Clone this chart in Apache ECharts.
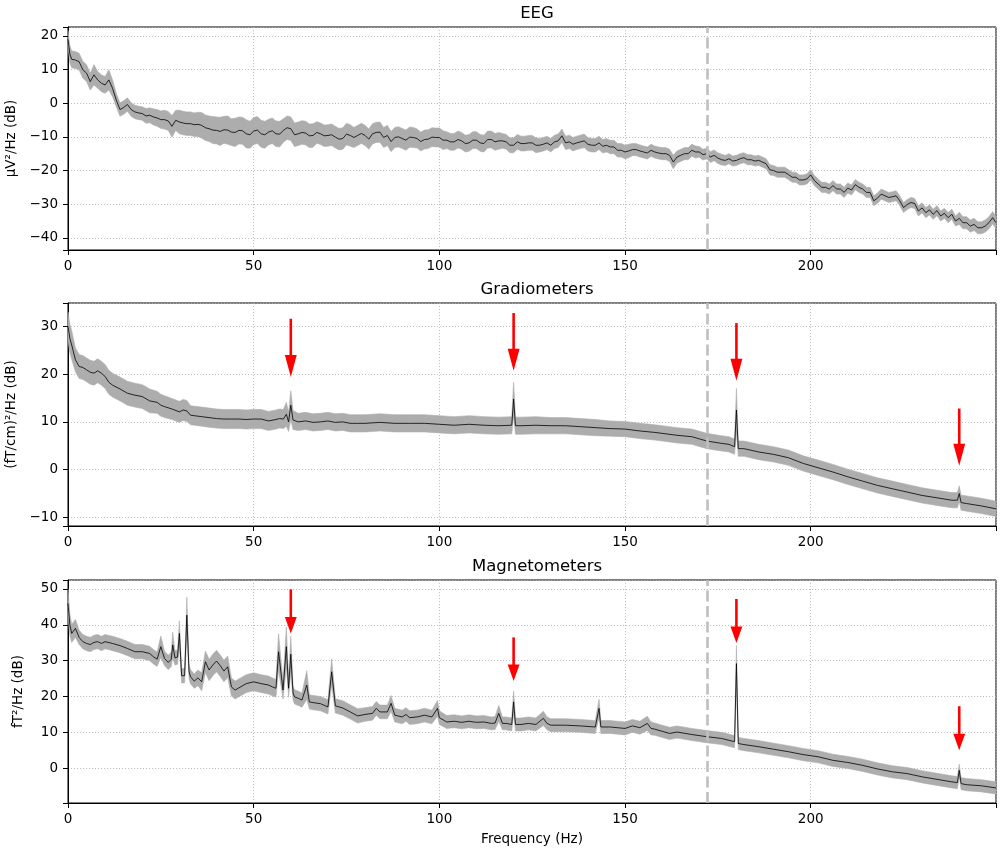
<!DOCTYPE html>
<html>
<head>
<meta charset="utf-8">
<script src="https://cdn.jsdelivr.net/npm/echarts@6/dist/echarts.min.js"></script>
<style>
  html, body { margin: 0; padding: 0; background: #fff; }
  #main { width: 1000px; height: 850px; }
</style>
</head>
<body>
<div id="main"></div>
<script>
// ---------------- DATA ----------------
const panelTitles = ['EEG', 'Gradiometers', 'Magnetometers'];
const yAxisNames = ['\u00b5V\u00b2/Hz (dB)', '(fT/cm)\u00b2/Hz (dB)', 'fT\u00b2/Hz (dB)'];
const xAxisName = 'Frequency (Hz)';
const xRange = [0, 249.9];
const yRanges = [[-43.6, 22.6], [-11.8, 34.9], [-9.7, 52.5]];
const cutoffFreq = 172.2;

// EEG
const eegFreq = [0,0.5,1,2,3,4,5,6,7,8,9,10,11,12,13,14,15,16,17,18,19,
  20,21,22,23,24,25,26,27,28,29, 30,31,32,33,34,35,36,37,38,39,
  40,41,42,43,44,45,46,47,48,49, 50,51,52,53,54,55,56,57,58,59,
  60,61,62,63,64,65,66,67,68,69, 70,71,72,73,74,75,76,77,78,79,
  80,81,82,83,84,85,86,87,88,89, 90,91,92,93,94,95,96,97,98,99,
  100,101,102,103,104,105,106,107,108,109, 110,111,112,113,114,115,116,117,118,119,
  120,121,122,123,124,125,126,127,128,129, 130,131,132,133,134,135,136,137,138,139,
  140,141,142,143,144,145,146,147,148,149, 150,151,152,153,154,155,156,157,158,159,
  160,161,162,163,164,165,166,167,168,169, 170,171,172,173,174,175,176,177,178,179,
  180,181,182,183,184,185,186,187,188,189, 190,191,192,193,194,195,196,197,198,199,
  200,201,202,203,204,205,206,207,208,209, 210,211,212,213,214,215,216,217,218,219,
  220,221,222,223,224,225,226,227,228,229, 230,231,232,233,234,235,236,237,238,239,
  240,241,242,243,244,245,246,247,248,249,249.9];
const eegMean = [19,14.5,13,12.8,12.3,9.9,8.9,6.4,8.4,6.9,5.9,5.4,6.9,4.4,0.9,-1.9,-1.3,-0.4,-1.9,-2.6,-2.9,
  -3.1,-3.8,-3.6,-4.1,-4.4,-4.9,-4.9,-5.3,-6.9,-5.1, -5.6,-5.9,-6.1,-6.1,-6.4,-6.3,-6.6,-7.3,-7.6,-8,
  -8.1,-8.4,-7.9,-8,-8.6,-8.7,-8.1,-8.2,-9.1,-9.4, -8.3,-8,-9.1,-9.4,-8.6,-8.2,-9.1,-9.2,-8.1,-7.3,
  -7.6,-9.4,-9.1,-8.7,-8.9,-9.7,-9.6,-8.7,-9.1,-9.7, -9.6,-9.4,-10.1,-10.7,-10.5,-9.2,-9.6,-10.2,-9.6,-9,
  -9.6,-10.7,-9.1,-8.7,-8.6,-10.2,-9.6,-11.4,-10.2,-10, -10.5,-11,-10.1,-10.2,-10.5,-11.4,-10.8,-10.7,-10.1,-10.2,
  -10.2,-11,-11,-11.5,-11.5,-10.8,-11.2,-12,-11.8,-11, -11,-11.8,-12,-10.8,-10.8,-11.5,-11.2,-11.2,-11.5,-12.5,
  -12.5,-11.5,-12,-12,-11.8,-11.8,-12.5,-12.5,-12.2,-11.8, -12.5,-11.5,-11.2,-9.7,-11.8,-11.5,-12.2,-11.8,-11.5,-11.2,
  -12.2,-12.5,-12.5,-11.8,-12.8,-12.5,-13,-13,-14,-14, -14.5,-14.2,-13.8,-13.8,-14.2,-14.5,-14.8,-14,-14.5,-14.8,
  -15,-15,-15.5,-17.5,-16,-15.5,-15,-15,-14,-14.5, -14.5,-15.3,-15,-16,-15.5,-16.3,-16.8,-17,-16.5,-17.2,
  -17,-16.5,-16.2,-16.8,-16.8,-17.2,-17,-17.5,-18,-19.8, -20,-20.5,-20.5,-20.5,-21.2,-22,-22,-22.8,-22.8,-22.5,
  -21.3,-23,-24,-25,-25,-25.5,-24.5,-25.5,-25.5,-26.5, -25.2,-25.8,-24.2,-25,-25.5,-26.5,-26.5,-29,-28.2,-27,
  -27.5,-28,-27.8,-27.5,-29,-31,-30.1,-29.5,-29.8,-32, -31.1,-32.5,-31.7,-33,-31.9,-33.5,-32.7,-34,-33,-35,
  -34.2,-35.5,-35.5,-36.5,-36,-37,-37,-36.5,-35.5,-34,-35.5];
const eegSpread = [2.5,2.5,2.5,2.5,2.5,2.5,2.5,2.5,3,2.5,2.5,2.5,3,2.5,2,2,2,2,2,2,2,
  2,2.2,2.2,2.4,2.5,2.6,2.8,2.8,3.2,3, 3.5,3.5,3.5,3.5,3.5,3.6,3.8,3.8,3.8,4,
  4,4.2,4,4.2,4,4.2,4,4,4.2,4, 4,4,4,4,3.8,3.8,3.8,3.8,3.5,3.5,
  3.5,3.5,3.5,3.5,3.5,3.5,3.5,3.2,3.2,3.2, 3.2,3.2,3.2,3.2,3.2,3.2,3.2,3,3,3,
  3,3,3,3,3,3,3,3,3,3, 3,3,3,3,2.8,2.8,2.8,2.8,2.8,2.8,
  2.8,2.8,2.5,2.5,2.5,2.5,2.5,2.5,2.5,2.5, 2.5,2.5,2.5,2.5,2.5,2.5,2.5,2.2,2.2,2.2,
  2.2,2.2,2.2,2.2,2.2,2.2,2.2,2,2,2, 2,2,2,2,2,2,2,2,2,2,
  2,2,2,2,2,2,2,2,2,2, 2,2,1.8,1.8,1.8,1.8,1.8,1.8,1.8,1.8,
  1.8,1.8,1.8,2,1.8,1.8,1.8,1.8,1.8,1.8, 1.6,1.6,1.6,1.6,1.6,1.6,1.6,1.5,1.5,1.5,
  1.5,1.5,1.5,1.5,1.5,1.5,1.5,1.5,1.5,1.5, 1.5,1.5,1.5,1.5,1.5,1.5,1.5,1.5,1.5,1.5,
  1.5,1.5,1.5,1.5,1.5,1.5,1.5,1.5,1.5,1.5, 1.5,1.5,1.5,1.5,1.5,1.5,1.5,1.5,1.5,1.5,
  1.5,1.5,1.5,1.5,1.5,1.5,1.5,1.5,1.5,1.5, 1.5,1.5,1.5,1.5,1.5,1.5,1.5,1.5,1.5,1.5,
  1.8,1.8,1.8,1.8,1.8,1.8,1.8,1.8,1.8,1.8,1.8];

// Gradiometers
const gradFreq = [0,0.5,1,2,3,4,5,6,7,8,9,10,11,12,14,16,18,20,22,24,25,26,28,30,31,32,33,34,36,38,40,
  42,44,46,48,50,52,54,56,57,58,58.8,59.4,60,60.6,62,64,66,68,70,72,74,76,78,80,
  84,88,92,96,100,104,108,112,116,119.5,120,120.5,122,126,130,134,138,142,146,150,154,158,160,164,168,172,176,178,
  179.5,180,180.5,182,186,190,194,198,202,206,210,214,218,222,226,230,234,238,239.5,240,240.5,242,246,249.9];
const gradMean = [30,27.5,26.1,23,21.6,21.4,20.9,20.4,20.2,20.7,20.2,19.5,18.3,17.7,16.9,16,15.6,15.3,14.4,14.1,13.5,13.2,12.7,12.1,12.5,12.3,11.4,11.3,11.1,10.9,10.7,
  10.6,10.6,10.6,10.5,10.6,10.6,10.2,10.5,10.7,10.6,11.6,10,13.5,10.4,10,10.2,9.9,10,10.2,9.9,10,9.7,9.7,9.7,
  9.9,9.7,9.7,9.7,9.5,9.3,9.5,9.3,9.2,9.3,14.8,9.2,9.2,9.3,9.2,9.2,9,8.8,8.6,8.5,8.1,7.8,7.6,7.2,6.9,6,5.5,5.3,
  4.8,12.5,4.4,4.4,3.7,3.2,2.5,1.3,0.4,-0.5,-1.5,-2.4,-3.3,-4,-4.7,-5.4,-5.9,-6.4,-6.4,-5,-6.9,-7.1,-7.6,-8.2];
const gradSpread = [3,3,3,2.5,2.5,2.5,2.5,2.5,2.5,2.5,2.5,2.5,2.5,2.5,2.5,2.5,2.5,2.5,2.5,2.3,2.3,2.3,2.2,2.2,2.2,2.2,2,2,2,2,2,
  2,2,2,2,2,2,2,2,2,2,2.5,2,3,2,1.8,1.8,1.8,1.8,1.8,1.8,1.8,1.8,1.8,1.8,
  1.8,1.8,1.8,1.8,1.8,1.8,1.8,1.8,1.8,1.8,3.5,1.8,1.8,1.8,1.7,1.7,1.7,1.7,1.6,1.6,1.6,1.6,1.6,1.6,1.6,1.6,1.6,1.6,
  1.6,4.5,1.6,1.6,1.6,1.6,1.6,1.6,1.6,1.6,1.6,1.6,1.6,1.6,1.6,1.6,1.6,1.6,1.6,1.6,1.6,1.6,1.6,1.6];

// Magnetometers
const magFreq = [0,0.5,1,2,3,4,5,6,7,8,9,10,12,14,16,18,20,22,23,24,
  25,26,27,27.8,28.2,28.8,29.5,30,30.6,31.4,32,32.6,33,34,35,36,37,38,39,40,
  41,42,43,44,45,46,48,50,52,54,55,56,56.7,57.9,58.8,59.4,60,60.6,61,62,
  63,64.3,65,66,68,70,71,72,74,76,78,80,82,83,84,86,87,88,90,91,
  92,94,96,98,99.5,100,102,104,106,108,110,112,114,115,116,117,118,119.5,120,120.5,
  122,124,126,128,129,130,134,138,142,143,143.5,146,148,150,152,154,156,157,158,160,
  162,164,168,172,176,179.5,180,180.5,182,186,190,194,198,202,206,210,214,218,222,226,
  230,234,238,239.5,240,240.5,242,246,249.9];
const magMean = [46,40,37.6,39,36.5,35.3,34.8,34.5,35.1,35.3,34.8,35.3,34.8,34.2,33.4,32.5,32.5,32,31.1,30.4,
  33.9,30.6,29.5,30.4,34.4,30.8,31,37.6,25.8,25.8,42.7,26.9,25.5,24.3,25.2,24.1,29.7,27.4,28.8,29.9,
  28.6,27.1,28.3,22.7,21.8,22.4,23.6,24.1,23.6,23.2,22.7,22.3,32.5,21.8,33.9,22.3,31.8,21,19.9,19.5,
  19,23.2,18.5,18.3,18,17.1,26.9,17.4,16.8,15.7,14.6,15,15.3,16.7,15.7,15.7,18.1,14.8,14.3,15,
  14.1,14.3,14.8,14.3,16.7,14.1,12.9,13.1,12.8,13.1,12.8,12.9,12.5,12.6,15.3,12.5,12.5,12.2,18.5,12.2,
  12.2,12.5,12.2,13.9,12.5,12,12,11.8,11.5,16.7,11.5,11.5,11.3,11.1,11.8,11.3,12.5,11.1,10.9,10.3,
  9.7,10.1,9.4,8.8,8.3,7.4,29.2,6.9,6.6,6,5.3,4.6,3.8,3.2,2.2,1.6,0.8,-0.2,-1,-1.5,
  -2.4,-3.1,-3.8,-4,-0.6,-4.3,-4.6,-4.9,-5.5];
const magSpread = [4,3,2.5,2.5,2,2,2,2,2,2,2,2,2,2,2,2,2,2,2,2,
  3,2,2,2,3.5,2,2,3.5,2,2,5,2,2,2,2.2,2.5,3,3,3,3,
  3,3,3,2.5,2.5,2.5,2.5,2.5,2.5,2.5,2.5,2.5,5,2.5,5.5,2.5,5,2,2,2,
  2,4,2,2,2,2,3.6,2,2,2,2,1.9,1.9,1.9,1.9,1.9,2.2,1.9,1.9,1.9,
  1.9,1.9,1.9,1.9,2.2,1.9,1.8,1.8,1.8,1.8,1.8,1.8,1.8,1.8,2.2,1.8,1.8,1.8,3,1.8,
  1.8,1.8,1.8,2,1.8,1.8,1.8,1.8,1.8,2.5,1.8,1.8,1.8,1.8,1.8,1.8,2,1.8,1.7,1.7,
  1.7,1.7,1.7,1.7,1.7,1.7,5,1.7,1.7,1.7,1.7,1.7,1.7,1.7,1.7,1.7,1.7,1.7,1.7,1.7,
  1.7,1.7,1.7,1.7,1.7,1.7,1.7,1.7,1.7];

// Red arrows (line-noise harmonics)
const arrowFreqs = [60, 120, 180, 240];
const gradArrowTop = [31.6, 32.8, 30.7, 12.8];
const gradArrowTip = [19.4, 20.7, 18.6, 0.8];
const magArrowTop = [49.9, 36.5, 47.2, 17.3];
const magArrowTip = [37.6, 24.3, 34.9, 5.0];

// ---------------- CHART ----------------
const FONT = 'DejaVu Sans';
const panels = [
  { freq: eegFreq, mean: eegMean, spread: eegSpread, arrows: null },
  { freq: gradFreq, mean: gradMean, spread: gradSpread, arrows: [gradArrowTop, gradArrowTip] },
  { freq: magFreq, mean: magMean, spread: magSpread, arrows: [magArrowTop, magArrowTip] }
];
const gridTops = [27, 303, 580];
const gridHeight = 223;
const gridLeft = 68, gridWidth = 928;
const gridLineStyle = { color: '#b0b0b0', type: [1.1, 1.9], width: 0.8 };

function fmtTick(v, step) {
  const r = Math.round(v);
  if (Math.abs(v - r) > 1e-6 || r % step !== 0) return '';
  return r < 0 ? '\u2212' + (-r) : String(r);
}

const grid = [], xAxis = [], yAxis = [], series = [], title = [];
panels.forEach((p, i) => {
  grid.push({ left: gridLeft, width: gridWidth, top: gridTops[i], height: gridHeight,
    show: true, borderColor: '#000', borderWidth: 1, containLabel: false, outerBoundsMode: 'none' });
  title.push({ text: panelTitles[i], left: gridLeft + gridWidth / 2, top: gridTops[i] - 27,
    textAlign: 'center', textStyle: { fontFamily: FONT, fontSize: 16.5, fontWeight: 'normal', color: '#000' } });
  xAxis.push({ type: 'value', gridIndex: i, min: xRange[0], max: xRange[1], interval: 50,
    name: i === 2 ? xAxisName : '', nameLocation: 'middle', nameGap: 29,
    nameTextStyle: { fontFamily: FONT, fontSize: 13.5, color: '#000' },
    axisLine: { show: true, onZero: false, lineStyle: { color: '#000', width: 1 } },
    axisTick: { show: true, length: 5, lineStyle: { color: '#000', width: 1 } },
    axisLabel: { show: true, margin: 9, fontFamily: FONT, fontSize: 13.5, color: '#000',
      formatter: v => fmtTick(v, 50) },
    splitLine: { show: true, lineStyle: gridLineStyle } });
  yAxis.push({ type: 'value', gridIndex: i, min: yRanges[i][0], max: yRanges[i][1],
    minInterval: 10, maxInterval: 10, splitNumber: 6,
    name: yAxisNames[i], nameLocation: 'middle', nameGap: 43,
    nameTextStyle: { fontFamily: FONT, fontSize: 13.5, color: '#000' },
    axisLine: { show: true, onZero: false, lineStyle: { color: '#000', width: 1 } },
    axisTick: { show: true, length: 5, lineStyle: { color: '#000', width: 1 } },
    axisLabel: { show: true, margin: 10, fontFamily: FONT, fontSize: 13.5, color: '#000',
      formatter: v => fmtTick(v, 10) },
    splitLine: { show: true, lineStyle: gridLineStyle } });

  // shaded band (mean +/- spread) as one polygon through the axes' scales
  series.push({ type: 'custom', xAxisIndex: i, yAxisIndex: i,
    data: [[p.freq[0], p.mean[0]]], silent: true, animation: false, z: 1, clip: true,
    renderItem: function (params, api) {
      const up = p.freq.map((f, k) => api.coord([f, p.mean[k] + p.spread[k]]));
      const lo = p.freq.map((f, k) => api.coord([f, p.mean[k] - p.spread[k]])).reverse();
      return { type: 'polygon', shape: { points: up.concat(lo) },
        style: { fill: '#adadad', stroke: '#adadad', lineWidth: 0.6 } };
    } });
  const mean = p.freq.map((f, k) => [f, p.mean[k]]);
  series.push({ type: 'line', xAxisIndex: i, yAxisIndex: i, data: mean, symbol: 'none',
    silent: true, animation: false, lineStyle: { color: '#000', width: 0.8 }, z: 3 });
  series.push({ type: 'line', xAxisIndex: i, yAxisIndex: i, data: [], symbol: 'none', silent: true,
    animation: false, z: 4,
    markLine: { silent: true, symbol: 'none', animation: false, label: { show: false },
      lineStyle: { color: '#bfbfbf', type: [11, 4.5], width: 2.6 },
      data: [{ xAxis: cutoffFreq }] } });
  if (p.arrows) {
    const adata = arrowFreqs.map((f, k) => [f, p.arrows[0][k], p.arrows[1][k]]);
    series.push({ type: 'custom', xAxisIndex: i, yAxisIndex: i, data: adata, silent: true,
      animation: false, z: 5, clip: false,
      renderItem: function (params, api) {
        const x = api.value(0), top = api.value(1), tip = api.value(2);
        const headLen = 4.6, headHalf = 1.6;
        const pTop = api.coord([x, top]);
        const pTip = api.coord([x, tip]);
        const pBase = api.coord([x, tip + headLen]);
        const pL = api.coord([x - headHalf, tip + headLen]);
        const pR = api.coord([x + headHalf, tip + headLen]);
        return { type: 'group', children: [
          { type: 'rect', shape: { x: pTop[0] - 1.3, y: pTop[1], width: 2.6, height: pBase[1] - pTop[1] + 1 },
            style: { fill: '#ff0000' } },
          { type: 'polygon', shape: { points: [pL, pR, pTip] }, style: { fill: '#ff0000' } }
        ] };
      } });
  }
});

const chart = echarts.init(document.getElementById('main'), null, { renderer: 'canvas' });
chart.setOption({ animation: false, backgroundColor: '#fff', title, grid, xAxis, yAxis, series });
</script>
</body>
</html>
